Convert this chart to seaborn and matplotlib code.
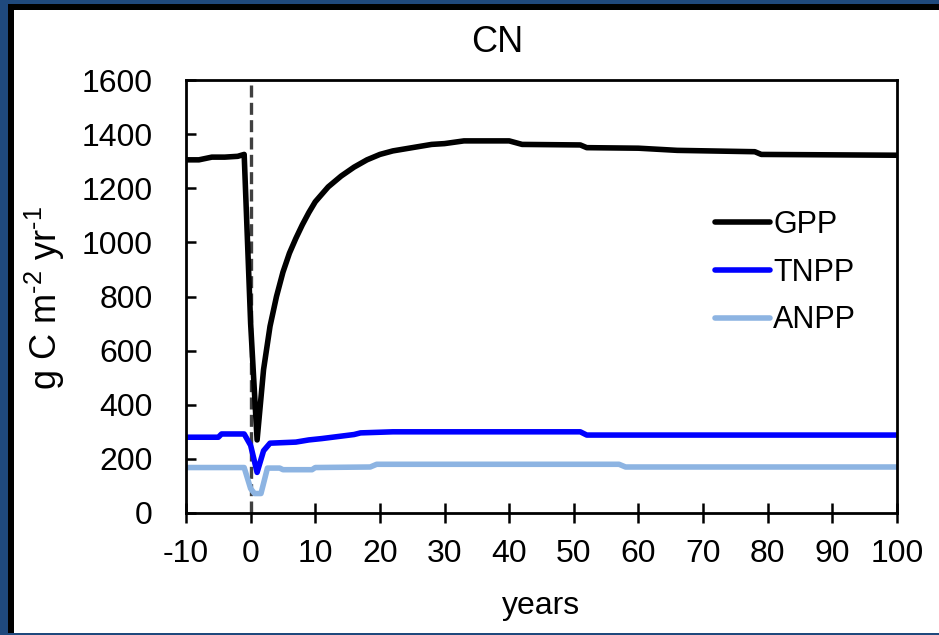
import numpy as np
import pandas as pd
import matplotlib
matplotlib.use("Agg")
import matplotlib.pyplot as plt
import seaborn as sns
from matplotlib.patches import Rectangle

# ---------------- data ----------------
gpp_years = [-10, -8, -6, -4, -2, -1, 0, 1, 2, 3, 4, 5, 6, 7, 8, 9, 10, 12, 14, 16, 18,
             20, 22, 25, 28, 30, 33, 40, 42, 51, 52, 60, 66, 78, 79, 100]
gpp_values = [1305, 1305, 1315, 1315, 1318, 1325, 700, 270, 530, 690, 800, 890, 960, 1015,
              1065, 1110, 1150, 1205, 1245, 1278, 1305, 1325, 1338, 1350, 1362, 1365, 1375,
              1375, 1362, 1360, 1350, 1348, 1340, 1335, 1325, 1322]

tnpp_years = [-10, -5, -4.5, -1, 0, 1, 2, 3, 5, 7, 9, 11, 12, 16, 17, 22, 51, 52, 100]
tnpp_values = [280, 280, 292, 292, 250, 150, 230, 258, 260, 262, 270, 275, 278, 290, 296,
               300, 300, 288, 288]

anpp_years = [-10, -1, 0, 0.6, 1.6, 2.6, 4.5, 5, 9.5, 10, 18.5, 19.5, 57, 58, 100]
anpp_values = [168, 168, 90, 72, 72, 166, 166, 160, 160, 168, 170, 180, 180, 170, 170]

series_names = ["GPP", "TNPP", "ANPP"]
series_colors = ["#000000", "#0000FF", "#8DB4E2"]
x_ticks = [-10, 0, 10, 20, 30, 40, 50, 60, 70, 80, 90, 100]
y_ticks = [0, 200, 400, 600, 800, 1000, 1200, 1400, 1600]

df = pd.concat([
    pd.DataFrame({"year": gpp_years, "value": gpp_values, "series": "GPP"}),
    pd.DataFrame({"year": tnpp_years, "value": tnpp_values, "series": "TNPP"}),
    pd.DataFrame({"year": anpp_years, "value": anpp_values, "series": "ANPP"}),
], ignore_index=True)

# ---------------- style ----------------
sns.set_theme(style="white")
plt.rcParams["font.family"] = ["Liberation Sans", "DejaVu Sans"]
plt.rcParams["mathtext.fontset"] = "custom"
plt.rcParams["mathtext.rm"] = "Liberation Sans"
plt.rcParams["mathtext.it"] = "Liberation Sans"
plt.rcParams["text.color"] = "black"
plt.rcParams["axes.labelcolor"] = "black"
plt.rcParams["xtick.color"] = "black"
plt.rcParams["ytick.color"] = "black"

W, H = 939, 635
fig = plt.figure(figsize=(W / 100, H / 100), dpi=100)
fig.patch.set_facecolor("#1F497D")

# slide-like panel
fig.add_artist(Rectangle((14 / W, 2 / H), 1 - 14 / W, (H - 12) / H,
                         transform=fig.transFigure, facecolor="white", edgecolor="none", zorder=0))
fig.add_artist(Rectangle((8 / W, 2 / H), 6 / W, (H - 6) / H,
                         transform=fig.transFigure, facecolor="black", edgecolor="none", zorder=0))
fig.add_artist(Rectangle((8 / W, (H - 10) / H), 1 - 8 / W, 6 / H,
                         transform=fig.transFigure, facecolor="black", edgecolor="none", zorder=0))

ax = fig.add_axes([186 / W, (H - 513) / H, (897 - 186) / W, (513 - 80) / H])
ax.set_facecolor("white")

sns.lineplot(data=df, x="year", y="value", hue="series", hue_order=series_names,
             palette=dict(zip(series_names, series_colors)), linewidth=4.0,
             sort=False, estimator=None, ax=ax, legend=True)

ax.axvline(0, color="#404040", linestyle=(0, (3.6, 1.6)), linewidth=2.4, zorder=1)

ax.set_xlim(-10, 100)
ax.set_ylim(0, 1600)
ax.set_xticks(x_ticks)
ax.set_yticks(y_ticks)
ax.set_xticklabels([str(t) for t in x_ticks], fontsize=23, color="black")
ax.set_yticklabels([str(t) for t in y_ticks], fontsize=23, color="black")
ax.tick_params(axis="y", which="major", left=True, direction="in", length=7, width=1.8,
               pad=24, colors="black")
ax.tick_params(axis="x", which="major", bottom=True, direction="inout", length=14, width=1.8,
               pad=12, colors="black")
ax.set_xlabel("")
ax.set_ylabel("")
for s in ax.spines.values():
    s.set_visible(True)
    s.set_color("black")
    s.set_linewidth(2.0)

fig.text(497 / W, 1 - 43 / H, "CN", ha="center", va="center", fontsize=26, color="black")
fig.text(541 / W, 1 - 606 / H, "years", ha="center", va="center", fontsize=23, color="black")
fig.text(45 / W, 1 - 298 / H, "g C m$^{\u20102}$ yr$^{\u20101}$", ha="center", va="center",
         rotation=90, fontsize=26, color="black")

leg = ax.legend(loc="upper left", bbox_to_anchor=(715 / W, 1 - 210 / H),
                bbox_transform=fig.transFigure, frameon=False, fontsize=22,
                handlelength=1.8, handletextpad=0.1, labelspacing=0.58,
                borderpad=0, borderaxespad=0)
for line in leg.get_lines():
    line.set_linewidth(4)
for t in leg.get_texts():
    t.set_color("black")

fig.savefig("out.png", dpi=100, facecolor=fig.get_facecolor())
